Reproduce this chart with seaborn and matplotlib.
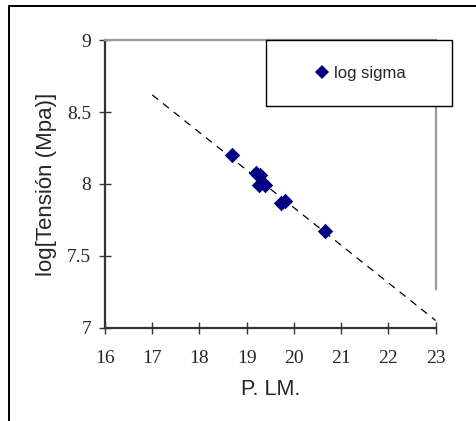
import matplotlib
matplotlib.use("Agg")
import matplotlib.pyplot as plt
import pandas as pd
import seaborn as sns
from matplotlib.patches import Rectangle
from matplotlib.lines import Line2D

# data
p_lm = [18.69, 19.20, 19.29, 19.27, 19.38, 19.73, 19.82, 20.65]
log_sigma = [8.20, 8.08, 8.06, 7.99, 7.99, 7.87, 7.88, 7.67]
trend_x = [17, 23]
trend_y = [8.62, 7.05]
x_ticks = [16, 17, 18, 19, 20, 21, 22, 23]
y_ticks = [7, 7.5, 8, 8.5, 9]
y_tick_labels = ["7", "7.5", "8", "8.5", "9"]

NAVY = "#000080"

sns.set_style("white")
plt.rcParams["font.family"] = ["Liberation Sans", "DejaVu Sans"]

df = pd.DataFrame({"p_lm": p_lm, "log_sigma": log_sigma})
trend = pd.DataFrame({"x": trend_x, "y": trend_y})

fig = plt.figure(figsize=(4.76, 4.21), dpi=100)
ax = fig.add_axes([0.2206, 0.2216, 0.6947, 0.6827])

sns.lineplot(ax=ax, data=trend, x="x", y="y", color="black", lw=0.9,
             linestyle=(0, (6, 5)), zorder=3)
sns.scatterplot(ax=ax, data=df, x="p_lm", y="log_sigma", marker="D", s=62,
                color=NAVY, linewidth=0, zorder=4)

ax.set_xlim(16, 23)
ax.set_ylim(7, 9)
ax.set_xticks(x_ticks)
ax.set_xticklabels([str(t) for t in x_ticks])
ax.set_yticks(y_ticks)
ax.set_yticklabels(y_tick_labels)
ax.tick_params(direction="inout", length=8, width=1, color="#333333",
               labelsize=14, bottom=True, left=True)
ax.tick_params(axis="x", pad=12)
ax.tick_params(axis="y", pad=6)
for lab in ax.get_xticklabels() + ax.get_yticklabels():
    lab.set_family(["Liberation Serif", "DejaVu Serif"])

ax.set_xlabel("P. LM.", fontsize=15.5, labelpad=9)
ax.set_ylabel("log[Tensión (Mpa)]", fontsize=16, labelpad=7.5)

for side in ["left", "bottom"]:
    ax.spines[side].set_color("#333333")
    ax.spines[side].set_linewidth(1.6)
for side in ["top", "right"]:
    ax.spines[side].set_color("#999999")
    ax.spines[side].set_linewidth(1.6)
ax.spines["right"].set_bounds(7.27, 9)

# legend box
box = Rectangle((0.487, 0.771), 0.562, 0.229, transform=ax.transAxes,
                facecolor="white", edgecolor="black", lw=1.0, clip_on=False, zorder=10)
ax.add_patch(box)
handle = Line2D([], [], marker="D", color=NAVY, linestyle="none", markersize=7.2,
                markeredgewidth=0)
leg = ax.legend([handle], ["log sigma"], loc="center", bbox_to_anchor=(0.768, 0.886),
                frameon=False, fontsize=12, handletextpad=0.1, handlelength=1.2)
leg.set_zorder(11)

# outer frame (left and top edges visible)
fig.add_artist(Line2D([9 / 476, 9 / 476], [0, 1 - 6 / 421], color="black", lw=1.4))
fig.add_artist(Line2D([9 / 476, 1], [1 - 6 / 421, 1 - 6 / 421], color="black", lw=1.4))

fig.savefig("out.png", dpi=100)
